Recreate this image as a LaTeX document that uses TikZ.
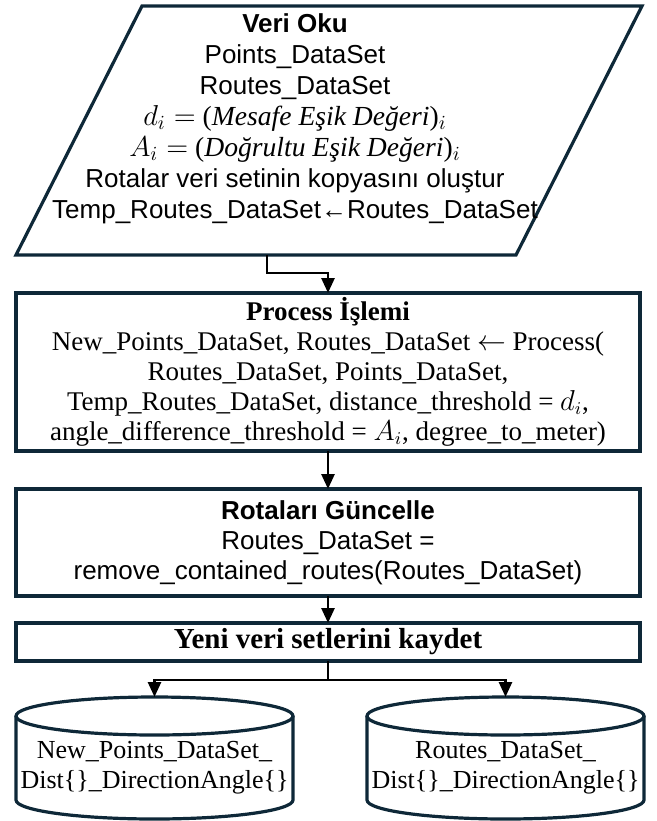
\documentclass[tikz,border=0pt]{standalone}
\usepackage{fontspec}
\setmainfont{Liberation Serif}
\setsansfont{Liberation Sans}
\usepackage{amsmath}
\usepackage{tikz}
\usetikzlibrary{shapes.geometric, positioning, arrows.meta}
\usepackage{xcolor}
\definecolor{lacivert}{RGB}{14,40,56}

\begin{document}
\begin{tikzpicture}[x=0.5pt, y=-0.5pt,
        font=\sffamily\fontsize{13}{15}\selectfont,
        kutu/.style={rectangle, draw=lacivert, line width=1.6pt,
            minimum width=312pt, inner sep=0pt, outer sep=0pt, align=center},
        vt/.style={rectangle, minimum width=138.5pt, minimum height=51.5pt,
            inner sep=0pt, outer sep=0pt, align=center,
            font=\rmfamily\fontsize{13}{15}\selectfont},
        ok/.style={-{Triangle[length=7.5pt, width=6.5pt]}, line width=1.35pt}]
    \useasboundingbox (0,0) rectangle (657,821);

    % veri okuma (paralelkenar)
    \draw[draw=lacivert, line width=1.6pt, line join=miter]
        (142,6) -- (642,6) -- (516,255) -- (16,255) -- cycle;
    \node[align=center, anchor=north, inner sep=0pt,
        font=\sffamily\fontsize{13}{15.5}\selectfont] (oku) at (295,13) {%
        \textbf{Veri Oku}\\
        Points\_DataSet\\
        Routes\_DataSet\\
        {\rmfamily\fontsize{13.8}{15.5}\selectfont $d_i =$ (\textit{Mesafe Eşik Değeri})$_i$}\\
        {\rmfamily\fontsize{13.8}{15.5}\selectfont $A_i =$ (\textit{Doğrultu Eşik Değeri})$_i$}\\
        Rotalar veri setinin kopyasını oluştur\\
        Temp\_Routes\_DataSet←Routes\_DataSet};
    \coordinate (okuAlt) at (267,255);

    \node[kutu, minimum height=79pt, font=\rmfamily\fontsize{13.5}{15}\selectfont]
        (islem) at (328,372) {%
        \textbf{Process İşlemi}\\
        New\_Points\_DataSet, Routes\_DataSet $\leftarrow$ Process(\\
        Routes\_DataSet, Points\_DataSet,\\
        Temp\_Routes\_DataSet, distance\_threshold = $d_i$,\\
        angle\_difference\_threshold = $A_i$, degree\_to\_meter)};
    \node[kutu, minimum height=53.5pt, below=19pt of islem] (guncelle) {%
        \textbf{Rotaları Güncelle}\\
        Routes\_DataSet =\\
        remove\_contained\_routes(Routes\_DataSet)};
    \node[kutu, minimum height=19pt, below=13.5pt of guncelle,
        font=\rmfamily\bfseries\fontsize{14.5}{15}\selectfont] (kaydet)
        {Yeni veri setlerini kaydet};
    \coordinate[below=9.5pt of kaydet] (dal);

    % veri setleri (silindir)
    \node[vt] (yeniNokta) at (154.5,767.5)
        {New\_Points\_DataSet\_\\Dist\{\}\_DirectionAngle\{\}};
    \node[vt] (yeniRota) at (505.5,767.5)
        {Routes\_DataSet\_\\Dist\{\}\_DirectionAngle\{\}};
    \foreach \v in {yeniNokta, yeniRota} {
        \draw[lacivert, line width=1.6pt] (\v.north)
            ellipse [x radius=69.25pt, y radius=9.5pt];
        \draw[lacivert, line width=1.6pt] (\v.north west)
            -- ([yshift=9.5pt]\v.south west)
            arc [start angle=180, end angle=360, x radius=69.25pt, y radius=9.5pt]
            -- (\v.north east);
    }

    \draw[ok] (okuAlt) -- ++(0,18) -| (islem.north);
    \draw[ok] (islem) -- (guncelle);
    \draw[ok] (guncelle) -- (kaydet);
    \draw[line width=1.35pt] (kaydet) -- (dal);
    \draw[ok] (dal) -| ([yshift=9.5pt]yeniNokta.north);
    \draw[ok] (dal) -| ([yshift=9.5pt]yeniRota.north);
\end{tikzpicture}
\end{document}
